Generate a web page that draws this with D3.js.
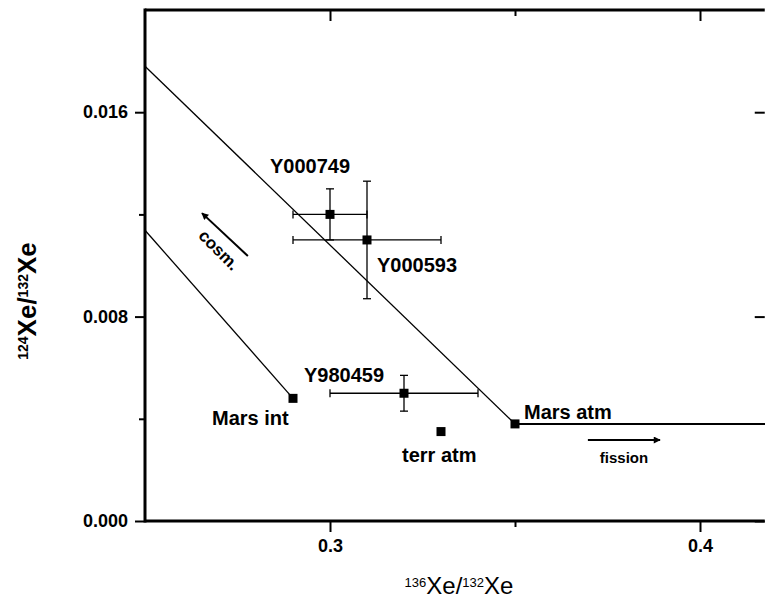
<!DOCTYPE html>
<html>
<head>
<meta charset="utf-8">
<script src="https://cdn.jsdelivr.net/npm/d3@7"></script>
<style>
  html, body { margin: 0; background: #fff; overflow: hidden; }
  svg { display: block; font-family: "Liberation Sans", Arial, sans-serif; }
  .lbl { font-size: 20px; font-weight: bold; fill: #000; }
  .tick text { font-size: 18px; font-weight: bold; fill: #000; }
  .tick line { stroke: #000; stroke-width: 2; }
</style>
</head>
<body>
<div id="graph"></div>
<script>
// measured samples
var sampleNames = ["Y000749", "Y000593", "Y980459"];
var sampleX = [0.300, 0.310, 0.320];
var sampleY = [0.0120, 0.0110, 0.0050];
var sampleXerr = [0.010, 0.020, 0.020];
var sampleYerr = [0.0010, 0.0023, 0.0007];

// end members
var endNames = ["Mars int", "terr atm", "Mars atm"];
var endX = [0.290, 0.330, 0.350];
var endY = [0.0048, 0.0035, 0.0038];

// mixing / trend lines
var upperLineX = [0.250, 0.350, 0.420];
var upperLineY = [0.0178, 0.0038, 0.0038];
var lowerLineX = [0.250, 0.290];
var lowerLineY = [0.01138, 0.0048];

// arrows
var cosmArrowX = [0.2778, 0.2654];
var cosmArrowY = [0.01037, 0.01205];
var fissionArrowX = [0.3697, 0.3892];
var fissionArrowY = [0.00317, 0.00317];

// ticks
var xMajor = [0.3, 0.4];
var xMinor = [0.35];
var yMajor = [0, 0.008, 0.016];
var yMinor = [0.004, 0.012];

var W = 765, H = 604;
var mLeft = 145, mTop = 10, mBottom = 521;

var x = d3.scaleLinear().domain([0.25, 0.4175]).range([mLeft, mLeft + 0.1675 * 3700]);
var y = d3.scaleLinear().domain([0, 0.020]).range([mBottom, mTop]);
var xEnd = x.range()[1];

var svg = d3.select("#graph").append("svg").attr("width", W).attr("height", H);

svg.append("defs").append("marker")
  .attr("id", "head").attr("viewBox", "0 0 10 10")
  .attr("refX", 9).attr("refY", 5)
  .attr("markerWidth", 10).attr("markerHeight", 7)
  .attr("markerUnits", "userSpaceOnUse")
  .attr("orient", "auto")
  .append("path").attr("d", "M0,0 L10,5 L0,10 z").attr("fill", "#000");

function noDomain(g){ g.select(".domain").remove(); }

// axes
svg.append("g").attr("transform", "translate(0," + mBottom + ")")
  .call(d3.axisBottom(x).tickValues(xMajor).tickSize(11).tickPadding(7).tickFormat(d3.format(".1f")))
  .call(noDomain);
svg.append("g").attr("transform", "translate(0," + mBottom + ")")
  .call(d3.axisBottom(x).tickValues(xMinor).tickSize(6).tickFormat(""))
  .call(noDomain);
svg.append("g").attr("transform", "translate(0," + mTop + ")")
  .call(d3.axisBottom(x).tickValues(xMajor).tickSize(11).tickFormat(""))
  .call(noDomain);
svg.append("g").attr("transform", "translate(0," + mTop + ")")
  .call(d3.axisBottom(x).tickValues(xMinor).tickSize(6).tickFormat(""))
  .call(noDomain);

svg.append("g").attr("transform", "translate(" + mLeft + ",0)")
  .call(d3.axisLeft(y).tickValues(yMajor).tickSize(10).tickPadding(7).tickFormat(d3.format(".3f")))
  .call(noDomain);
svg.append("g").attr("transform", "translate(" + mLeft + ",0)")
  .call(d3.axisLeft(y).tickValues(yMinor).tickSize(6).tickFormat(""))
  .call(noDomain);

// right axis (just past the window edge), inward ticks
svg.append("g").attr("transform", "translate(" + xEnd + ",0)")
  .call(d3.axisLeft(y).tickValues(yMajor).tickSize(10).tickFormat(""))
  .call(noDomain)
  .selectAll("line").attr("stroke-width", 1).attr("stroke", "#999");

// frame
var frame = svg.append("g").attr("stroke", "#000").attr("stroke-width", 3);
frame.append("line").attr("x1", mLeft).attr("x2", mLeft).attr("y1", mTop - 1.5).attr("y2", mBottom + 1.5);
frame.append("line").attr("x1", mLeft).attr("x2", xEnd).attr("y1", mTop).attr("y2", mTop);
frame.append("line").attr("x1", mLeft).attr("x2", xEnd).attr("y1", mBottom).attr("y2", mBottom);

// lines
var line = d3.line().x(function(d){ return x(d[0]); }).y(function(d){ return y(d[1]); });
svg.append("path").datum(d3.zip(upperLineX.slice(0, 2), upperLineY.slice(0, 2)))
  .attr("d", line).attr("fill", "none").attr("stroke", "#000").attr("stroke-width", 1.3);
svg.append("path").datum(d3.zip(upperLineX.slice(1), upperLineY.slice(1)))
  .attr("d", line).attr("fill", "none").attr("stroke", "#000").attr("stroke-width", 2);
svg.append("path").datum(d3.zip(lowerLineX, lowerLineY))
  .attr("d", line).attr("fill", "none").attr("stroke", "#000").attr("stroke-width", 1.3);

// error bars
var cap = 4;
for (var i = 0; i < sampleNames.length; i++) {
  var cx = x(sampleX[i]), cy = y(sampleY[i]);
  var x0 = x(sampleX[i] - sampleXerr[i]), x1 = x(sampleX[i] + sampleXerr[i]);
  var y0 = y(sampleY[i] - sampleYerr[i]), y1 = y(sampleY[i] + sampleYerr[i]);
  var eb = svg.append("g").attr("stroke", "#000").attr("stroke-width", 1.3);
  eb.append("line").attr("x1", x0).attr("x2", x1).attr("y1", cy).attr("y2", cy);
  eb.append("line").attr("x1", x0).attr("x2", x0).attr("y1", cy - cap).attr("y2", cy + cap);
  eb.append("line").attr("x1", x1).attr("x2", x1).attr("y1", cy - cap).attr("y2", cy + cap);
  eb.append("line").attr("x1", cx).attr("x2", cx).attr("y1", y0).attr("y2", y1);
  eb.append("line").attr("x1", cx - cap).attr("x2", cx + cap).attr("y1", y0).attr("y2", y0);
  eb.append("line").attr("x1", cx - cap).attr("x2", cx + cap).attr("y1", y1).attr("y2", y1);
}

// markers
var allX = sampleX.concat(endX), allY = sampleY.concat(endY);
svg.selectAll("rect.pt")
  .data(d3.range(allX.length))
  .enter().append("rect")
  .attr("class", "pt")
  .attr("width", 9).attr("height", 9)
  .attr("x", function(i){ return x(allX[i]) - 4.5; })
  .attr("y", function(i){ return y(allY[i]) - 4.5; })
  .attr("fill", "#000");

// labels (pixel offsets from their point)
var sampleOff = [[-60, -41], [10, 32], [-100, -11]];
var endOff = [[-81, 27], [-39, 30], [9, -5]];
svg.selectAll("text.sl")
  .data(sampleNames)
  .enter().append("text")
  .attr("class", "lbl sl")
  .text(function(d){ return d; })
  .attr("x", function(d, i){ return x(sampleX[i]) + sampleOff[i][0]; })
  .attr("y", function(d, i){ return y(sampleY[i]) + sampleOff[i][1]; });
svg.selectAll("text.el")
  .data(endNames)
  .enter().append("text")
  .attr("class", "lbl el")
  .text(function(d){ return d; })
  .attr("x", function(d, i){ return x(endX[i]) + endOff[i][0]; })
  .attr("y", function(d, i){ return y(endY[i]) + endOff[i][1]; });

// arrows
svg.append("line")
  .attr("x1", x(cosmArrowX[0])).attr("y1", y(cosmArrowY[0]))
  .attr("x2", x(cosmArrowX[1])).attr("y2", y(cosmArrowY[1]))
  .attr("stroke", "#000").attr("stroke-width", 2).attr("marker-end", "url(#head)");
svg.append("text").attr("class", "lbl")
  .attr("transform", "translate(219,250) rotate(45)")
  .attr("text-anchor", "middle").attr("dy", "0.35em")
  .style("font-size", "17px")
  .text("cosm.");

svg.append("line")
  .attr("x1", x(fissionArrowX[0])).attr("y1", y(fissionArrowY[0]))
  .attr("x2", x(fissionArrowX[1])).attr("y2", y(fissionArrowY[1]))
  .attr("stroke", "#000").attr("stroke-width", 1.8).attr("marker-end", "url(#head)");
svg.append("text").attr("class", "lbl")
  .attr("x", (x(fissionArrowX[0]) + x(fissionArrowX[1])) / 2).attr("y", 463)
  .attr("text-anchor", "middle")
  .style("font-size", "15px")
  .text("fission");

// axis titles
var xt = svg.append("text").attr("class", "lbl").attr("x", 459).attr("y", 594)
  .attr("text-anchor", "middle").style("font-size", "24px").style("font-weight", "normal");
xt.append("tspan").attr("baseline-shift", "super").style("font-size", "13px").text("136");
xt.append("tspan").text("Xe/");
xt.append("tspan").attr("baseline-shift", "super").style("font-size", "13px").text("132");
xt.append("tspan").text("Xe");

var yt = svg.append("text").attr("class", "lbl")
  .attr("transform", "translate(36,301) rotate(-90)")
  .attr("text-anchor", "middle").style("font-size", "26px");
yt.append("tspan").attr("baseline-shift", "super").style("font-size", "14px").text("124");
yt.append("tspan").text("Xe/");
yt.append("tspan").attr("baseline-shift", "super").style("font-size", "14px").text("132");
yt.append("tspan").text("Xe");
</script>
</body>
</html>
